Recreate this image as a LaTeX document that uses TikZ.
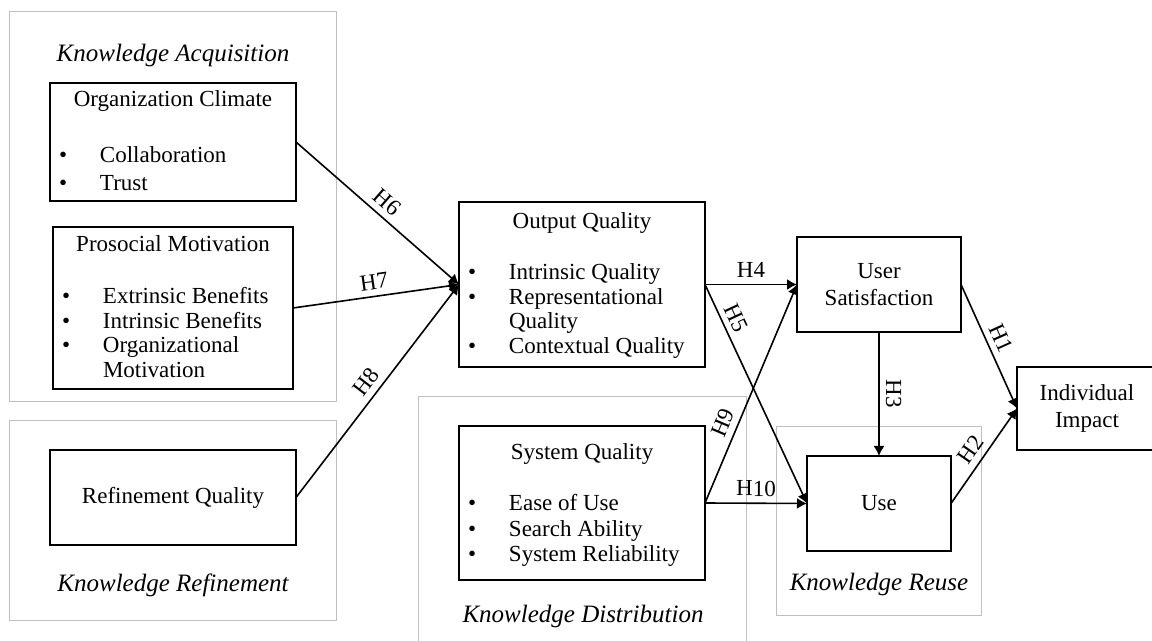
\documentclass[tikz,border=0pt]{standalone}
\usepackage{fontspec}
\setmainfont{Liberation Serif}
\usepackage{tikz}
\usetikzlibrary{calc}
\usetikzlibrary{arrows.meta}
\usetikzlibrary{positioning}

\newcommand{\bitem}[1]{\makebox[20.5pt][l]{\textbullet}#1}
\newcommand{\bcont}[1]{\makebox[20.5pt][l]{}#1}

\begin{document}
\begin{tikzpicture}[x=0.5pt,y=-0.5pt]
    \tikzstyle{every node}=[font=\fontsize{11.5}{13.75}\selectfont,inner sep=0pt,outer sep=0pt]
    \tikzstyle{phase}=[draw=black!25,line width=0.5pt]
    \tikzstyle{phasename}=[font=\fontsize{12.5}{15}\selectfont\itshape,anchor=base]
    \tikzstyle{box}=[draw=black,line width=0.6pt,align=center]
    \tikzstyle{title}=[anchor=base]
    \tikzstyle{list}=[anchor=base west,font=\fontsize{11.5}{12.25}\selectfont]
    \tikzstyle{hyp}=[draw=black,-{Latex[length=5pt,width=5.5pt]},line width=0.8pt]
    \tikzstyle{hlabel}=[sloped,above,inner sep=3.5pt]

    \useasboundingbox (0,0) rectangle (1152,641);
    \clip (0,0) rectangle (1152,641);

    % phases
    \draw[phase] (9,12) rectangle (336,402);
    \draw[phase] (9,421) rectangle (336,621);
    \draw[phase] (418,397) rectangle (746,660);
    \draw[phase] (776,427) rectangle (981,616);

    % knowledge acquisition
    \node[box,minimum width=123pt,minimum height=59pt] (oc) at (173,142) {};
    \node[title] at ($(oc.north)+(0,24)$) {Organization Climate};
    \node[list] at ($(oc.north west)+(9,80)$) {\begin{tabular}[t]{@{}l@{}}
      \bitem{Collaboration}\\[1.75pt]
      \bitem{Trust}
    \end{tabular}};

    \node[box,minimum width=120pt,minimum height=81pt] (pm) at (173,308) {};
    \node[title] at ($(pm.north)+(0,25)$) {Prosocial Motivation};
    \node[list] at ($(pm.north west)+(9,77)$) {\begin{tabular}[t]{@{}l@{}}
      \bitem{Extrinsic Benefits}\\
      \bitem{Intrinsic Benefits}\\
      \bitem{Organizational}\\
      \bcont{Motivation}
    \end{tabular}};
    \node[phasename] at (173,62) {Knowledge Acquisition};

    % knowledge refinement
    \node[box,minimum width=123pt,minimum height=47.5pt] (rq) at (173,497.5) {Refinement Quality};
    \node[phasename] at (173,592) {Knowledge Refinement};

    % output quality
    \node[box,minimum width=123pt,minimum height=82.5pt] (oq) at (582,284.5) {};
    \node[title] at ($(oq.north)+(0,27)$) {Output Quality};
    \node[list] at ($(oq.north west)+(9,78)$) {\begin{tabular}[t]{@{}l@{}}
      \bitem{Intrinsic Quality}\\
      \bitem{Representational}\\
      \bcont{Quality}\\
      \bitem{Contextual Quality}
    \end{tabular}};

    % knowledge distribution
    \node[box,minimum width=123pt,minimum height=77pt] (sq) at (582,503) {};
    \node[title] at ($(sq.north)+(0,34)$) {System Quality};
    \node[list] at ($(sq.north west)+(9,85)$) {\begin{tabular}[t]{@{}l@{}}
      \bitem{Ease of Use}\\[0.5pt]
      \bitem{Search Ability}\\[0.5pt]
      \bitem{System Reliability}
    \end{tabular}};
    \node[phasename] at (583,623) {Knowledge Distribution};

    % reuse and impact
    \node[box,minimum width=82pt,minimum height=47.5pt] (us) at (879,284.5) {User\\Satisfaction};
    \node[box,minimum width=72pt,minimum height=47.5pt] (use) at (879,503.5) {Use};
    \node[phasename] at ($(use.south)+(0,40)$) {Knowledge Reuse};
    \node[box,minimum width=70pt,minimum height=41.5pt] (ii) at (1087,408.5) {Individual\\Impact};

    % hypotheses
    \draw[hyp] (oc.east) -- (oq.west) node[hlabel,pos=0.5] {H6};
    \draw[hyp] (pm.east) -- (oq.west) node[hlabel,pos=0.5] {H7};
    \draw[hyp] (rq.east) -- (oq.west) node[hlabel,pos=0.5] {H8};
    \draw[hyp] (oq.east) -- (us.west) node[hlabel,pos=0.5] {H4};
    \draw[hyp] (oq.east) -- (use.west) node[hlabel,pos=0.18] {H5};
    \draw[hyp] (sq.east) -- (us.west) node[hlabel,pos=0.34] {H9};
    \draw[hyp] (sq.east) -- (use.west) node[hlabel,pos=0.5] {H10};
    \draw[hyp] (us.south) -- (use.north) node[hlabel,pos=0.5] {H3};
    \draw[hyp] (us.east) -- (ii.west) node[hlabel,pos=0.48] {H1};
    \draw[hyp] (use.east) -- (ii.west) node[hlabel,pos=0.48] {H2};

\end{tikzpicture}
\end{document}
